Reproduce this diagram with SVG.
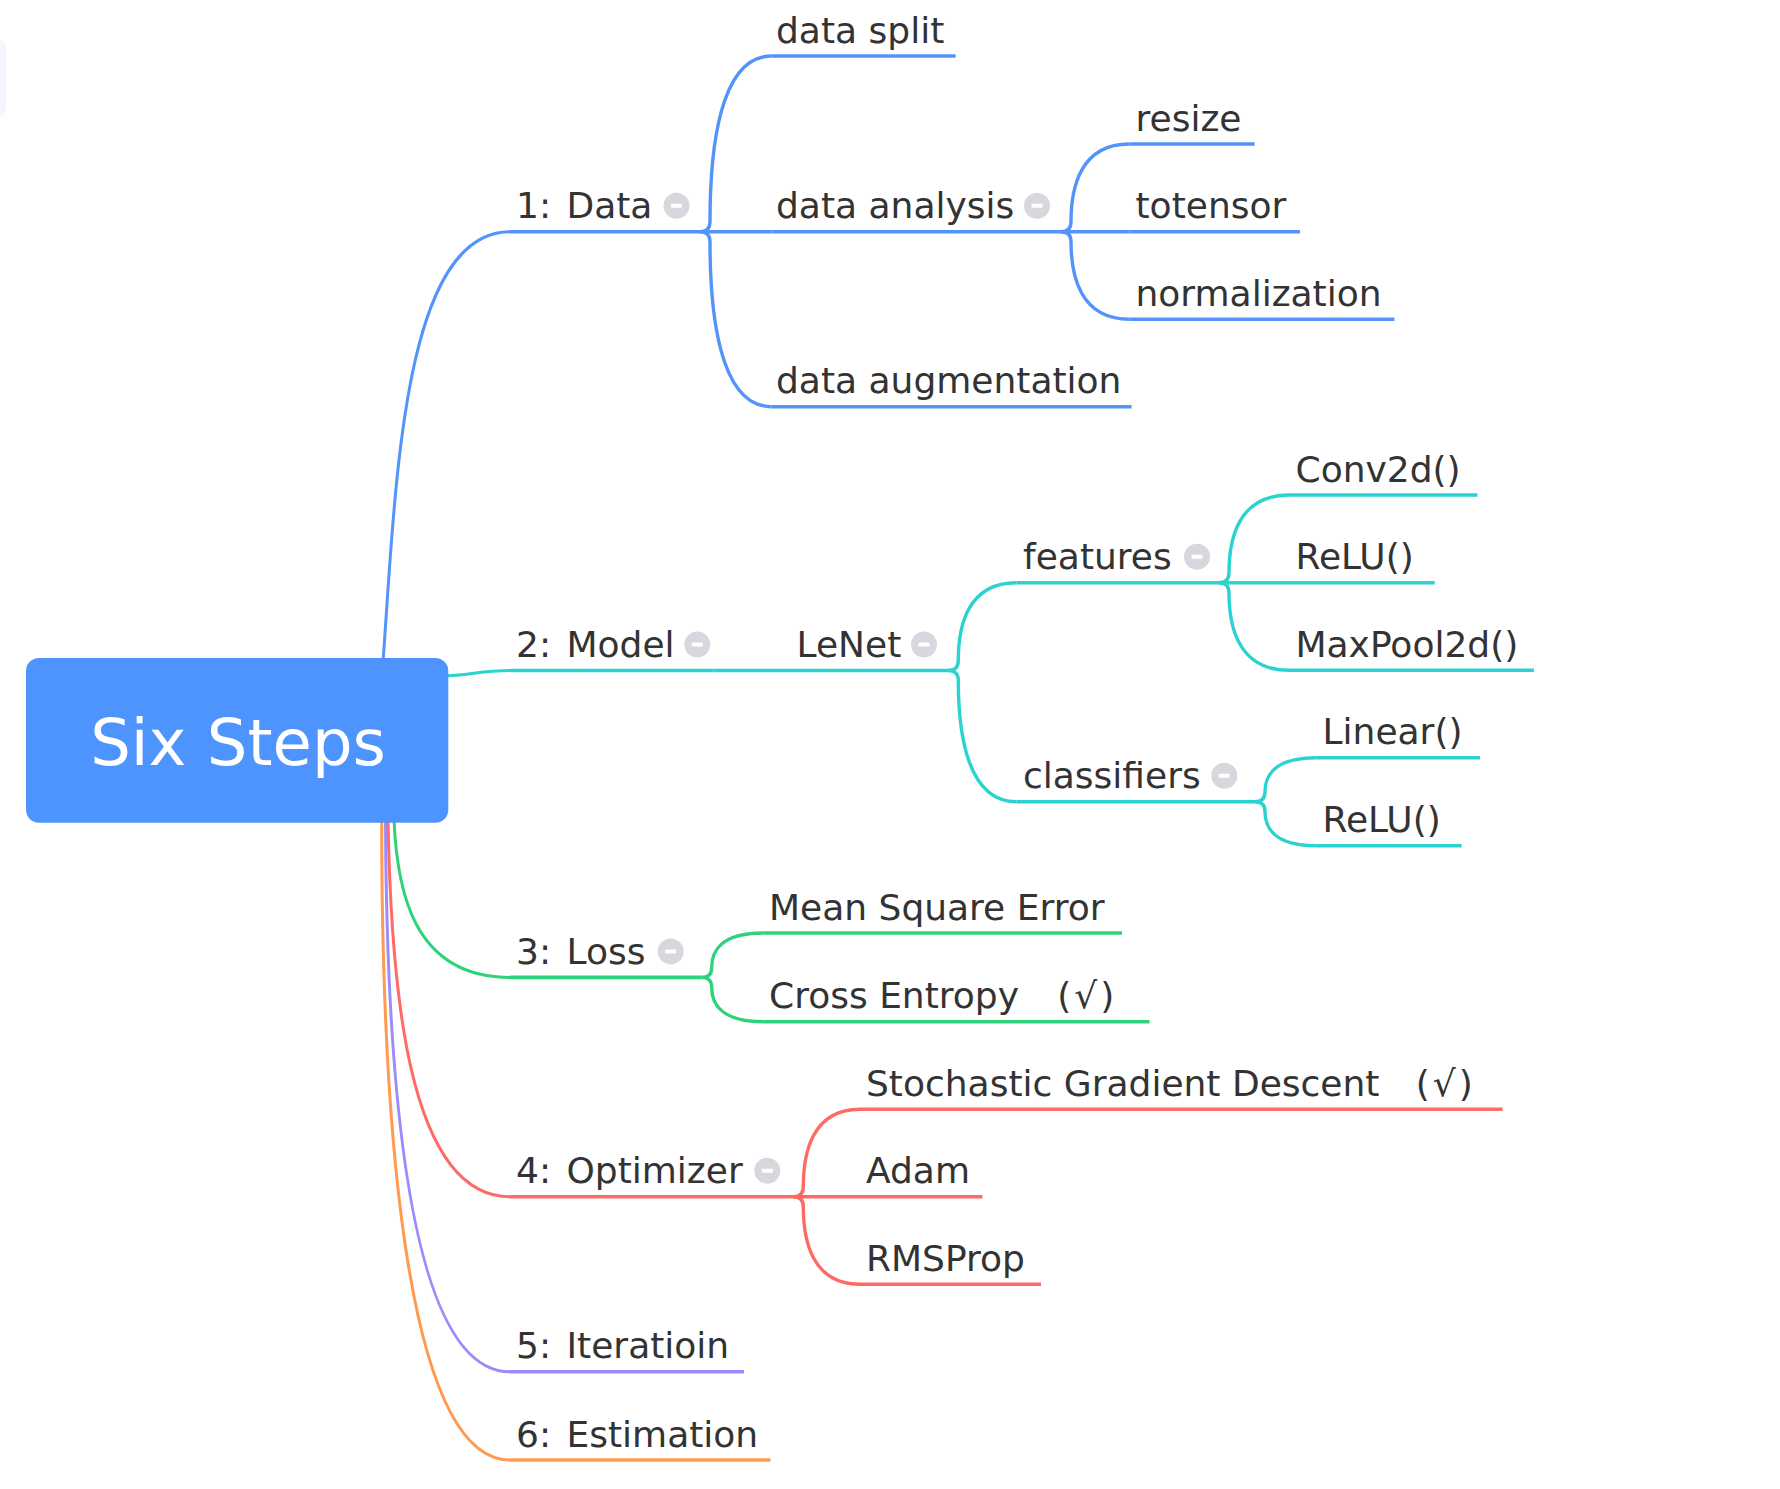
<svg xmlns="http://www.w3.org/2000/svg" width="1780" height="1489" viewBox="0 0 1780 1489">
<style>
  .t{font-family:"DejaVu Sans","Verdana",sans-serif;font-size:36px;fill:#333333;}
  .l1{word-spacing:4px;}
  .chk{letter-spacing:3px;}
  .root{font-family:"DejaVu Sans","Verdana",sans-serif;font-size:64px;fill:#ffffff;}
  .c{fill:none;stroke-width:3.4;stroke-linecap:butt;stroke-linejoin:round;}
  .rc{fill:none;stroke-width:3;stroke-linecap:butt;}
  .u{stroke-width:3.6;stroke-linecap:butt;}
  .blue{stroke:#5294f9;} .teal{stroke:#2ad3cf;} .green{stroke:#2dd37a;}
  .red{stroke:#ff6b64;} .purple{stroke:#9c8bfd;} .orange{stroke:#ff9a50;}
  .btn circle{fill:#d7d8dd;} .btn rect{fill:#ffffff;}
</style>
<defs>
  <g id="collapse" class="btn"><circle cx="0" cy="0" r="13"/><rect x="-5.5" y="-2" width="11" height="4" rx="1"/></g>
</defs>
<rect x="-12" y="40" width="18" height="77" rx="8" fill="#f4f6fb"/>
<g id="connectors">
  <path class="rc blue" d="M383,662 C395.7,487.6 402,231.7 510,231.7"/>
  <path class="rc teal" d="M440,676 C470,676 478,670.5 510,670.5"/>
  <path class="rc green" d="M394,820 C397,887.5 411.4,977.4 510,977.4"/>
  <path class="rc orange" d="M381.7,820 C381.7,1095.2 400.9,1460 510,1460"/>
  <path class="rc purple" d="M385.5,820 C386.5,1057.3 404.2,1371.8 510,1371.8"/>
  <path class="rc red" d="M388,820 C391,982 406.3,1196.7 510,1196.7"/>
  <path class="c blue" d="M700,231.7 Q710,231.7 710,221.7 C710,150.4 719.2,56 771.5,56"/>
  <path class="c blue" d="M700,231.7 H771.5"/>
  <path class="c blue" d="M700,231.7 Q710,231.7 710,241.7 C710,312.7 719.2,406.7 771.5,406.7"/>
  <path class="c blue" d="M1061,231.7 Q1071,231.7 1071,221.7 C1071,188.3 1079.8,144 1129.5,144"/>
  <path class="c blue" d="M1061,231.7 H1129.5"/>
  <path class="c blue" d="M1061,231.7 Q1071,231.7 1071,241.7 C1071,275.1 1079.8,319.3 1129.5,319.3"/>
  <path class="c teal" d="M713.3,670.5 H790"/>
  <path class="c teal" d="M948.3,670.5 Q958.3,670.5 958.3,660.5 C958.3,627 967,582.7 1016.4,582.7"/>
  <path class="c teal" d="M948.3,670.5 Q958.3,670.5 958.3,680.5 C958.3,732.6 967,801.7 1016.4,801.7"/>
  <path class="c teal" d="M1219,582.7 Q1229,582.7 1229,572.7 C1229,539.3 1238,495 1289,495"/>
  <path class="c teal" d="M1219,582.7 H1289"/>
  <path class="c teal" d="M1219,582.7 Q1229,582.7 1229,592.7 C1229,626.1 1238,670.3 1289,670.3"/>
  <path class="c teal" d="M1255,801.7 Q1265,801.7 1265,791.7 C1265,777.1 1272.8,757.7 1316.7,757.7"/>
  <path class="c teal" d="M1255,801.7 Q1265,801.7 1265,811.7 C1265,826.3 1272.8,845.7 1316.7,845.7"/>
  <path class="c green" d="M701.7,977.4 Q711.7,977.4 711.7,967.4 C711.7,952.6 719.4,933 763.3,933"/>
  <path class="c green" d="M701.7,977.4 Q711.7,977.4 711.7,987.4 C711.7,1002.1 719.4,1021.7 763.3,1021.7"/>
  <path class="c red" d="M793.3,1196.7 Q803.3,1196.7 803.3,1186.7 C803.3,1153.4 811.8,1109.3 860,1109.3"/>
  <path class="c red" d="M793.3,1196.7 H860"/>
  <path class="c red" d="M793.3,1196.7 Q803.3,1196.7 803.3,1206.7 C803.3,1240 811.8,1284.2 860,1284.2"/>
</g>
<g id="root">
  <rect x="26" y="658" width="422.3" height="164.7" rx="13" fill="#4e94ff"/>
  <text class="root" x="238" y="765" text-anchor="middle">Six Steps</text>
</g>
<g id="n-data">
  <line class="u blue" x1="510" y1="231.7" x2="700" y2="231.7"/>
  <text class="t l1" x="516" y="218.2">1: Data</text>
  <use href="#collapse" x="676.5" y="205.7"/>
</g>
<g id="n-data-split">
  <line class="u blue" x1="771.5" y1="56" x2="955.6" y2="56"/>
  <text class="t" x="776" y="42.5">data split</text>
</g>
<g id="n-data-analysis">
  <line class="u blue" x1="771.5" y1="231.7" x2="1061" y2="231.7"/>
  <text class="t" x="776" y="218.2">data analysis</text>
  <use href="#collapse" x="1037" y="205.7"/>
</g>
<g id="n-resize">
  <line class="u blue" x1="1129.5" y1="144" x2="1254.6" y2="144"/>
  <text class="t" x="1135.5" y="130.5">resize</text>
</g>
<g id="n-totensor">
  <line class="u blue" x1="1129.5" y1="231.7" x2="1300" y2="231.7"/>
  <text class="t" x="1135.5" y="218.2">totensor</text>
</g>
<g id="n-normalization">
  <line class="u blue" x1="1129.5" y1="319.3" x2="1394.4" y2="319.3"/>
  <text class="t" x="1135.5" y="305.8">normalization</text>
</g>
<g id="n-data-augmentation">
  <line class="u blue" x1="771.5" y1="406.7" x2="1131.6" y2="406.7"/>
  <text class="t" x="776" y="393.2">data augmentation</text>
</g>
<g id="n-model">
  <line class="u teal" x1="510" y1="670.5" x2="713.3" y2="670.5"/>
  <text class="t l1" x="516" y="657">2: Model</text>
  <use href="#collapse" x="697.3" y="644.5"/>
</g>
<g id="n-lenet">
  <line class="u teal" x1="790" y1="670.5" x2="948.3" y2="670.5"/>
  <text class="t" x="796.5" y="657">LeNet</text>
  <use href="#collapse" x="924" y="644.5"/>
</g>
<g id="n-features">
  <line class="u teal" x1="1016.4" y1="582.7" x2="1219" y2="582.7"/>
  <text class="t" x="1023" y="569.2">features</text>
  <use href="#collapse" x="1197" y="556.7"/>
</g>
<g id="n-conv2d">
  <line class="u teal" x1="1289" y1="495" x2="1477.5" y2="495"/>
  <text class="t" x="1295.5" y="481.5">Conv2d()</text>
</g>
<g id="n-relu1">
  <line class="u teal" x1="1289" y1="582.7" x2="1434.7" y2="582.7"/>
  <text class="t" x="1295.5" y="569.2">ReLU()</text>
</g>
<g id="n-maxpool2d">
  <line class="u teal" x1="1289" y1="670.3" x2="1533.9" y2="670.3"/>
  <text class="t" x="1295.5" y="656.8">MaxPool2d()</text>
</g>
<g id="n-classifiers">
  <line class="u teal" x1="1016.4" y1="801.7" x2="1255" y2="801.7"/>
  <text class="t" x="1023" y="788.2">classifiers</text>
  <use href="#collapse" x="1224.3" y="775.7"/>
</g>
<g id="n-linear">
  <line class="u teal" x1="1316.7" y1="757.7" x2="1480" y2="757.7"/>
  <text class="t" x="1322.5" y="744.2">Linear()</text>
</g>
<g id="n-relu2">
  <line class="u teal" x1="1316.7" y1="845.7" x2="1461.6" y2="845.7"/>
  <text class="t" x="1322.5" y="832.2">ReLU()</text>
</g>
<g id="n-loss">
  <line class="u green" x1="510" y1="977.4" x2="701.7" y2="977.4"/>
  <text class="t l1" x="516" y="963.9">3: Loss</text>
  <use href="#collapse" x="670.7" y="951.4"/>
</g>
<g id="n-mse">
  <line class="u green" x1="763.3" y1="933" x2="1122" y2="933"/>
  <text class="t" x="769" y="919.5">Mean Square Error</text>
</g>
<g id="n-cross-entropy">
  <line class="u green" x1="763.3" y1="1021.7" x2="1149.5" y2="1021.7"/>
  <text class="t" x="769" y="1008.2" xml:space="preserve">Cross Entropy   <tspan class="chk" dx="4">(√)</tspan></text>
</g>
<g id="n-optimizer">
  <line class="u red" x1="510" y1="1196.7" x2="793.3" y2="1196.7"/>
  <text class="t l1" x="516" y="1183.2">4: Optimizer</text>
  <use href="#collapse" x="767.3" y="1170.7"/>
</g>
<g id="n-sgd">
  <line class="u red" x1="860" y1="1109.3" x2="1502.5" y2="1109.3"/>
  <text class="t" x="866" y="1095.8" xml:space="preserve">Stochastic Gradient Descent   <tspan class="chk" dx="2">(√)</tspan></text>
</g>
<g id="n-adam">
  <line class="u red" x1="860" y1="1196.7" x2="982.4" y2="1196.7"/>
  <text class="t" x="866" y="1183.2">Adam</text>
</g>
<g id="n-rmsprop">
  <line class="u red" x1="860" y1="1284.2" x2="1041" y2="1284.2"/>
  <text class="t" x="866" y="1270.7">RMSProp</text>
</g>
<g id="n-iteration">
  <line class="u purple" x1="510" y1="1371.8" x2="744" y2="1371.8"/>
  <text class="t l1" x="516" y="1358.3">5: Iteratioin</text>
</g>
<g id="n-estimation">
  <line class="u orange" x1="510" y1="1460" x2="770.4" y2="1460"/>
  <text class="t l1" x="516" y="1446.5">6: Estimation</text>
</g>
</svg>
